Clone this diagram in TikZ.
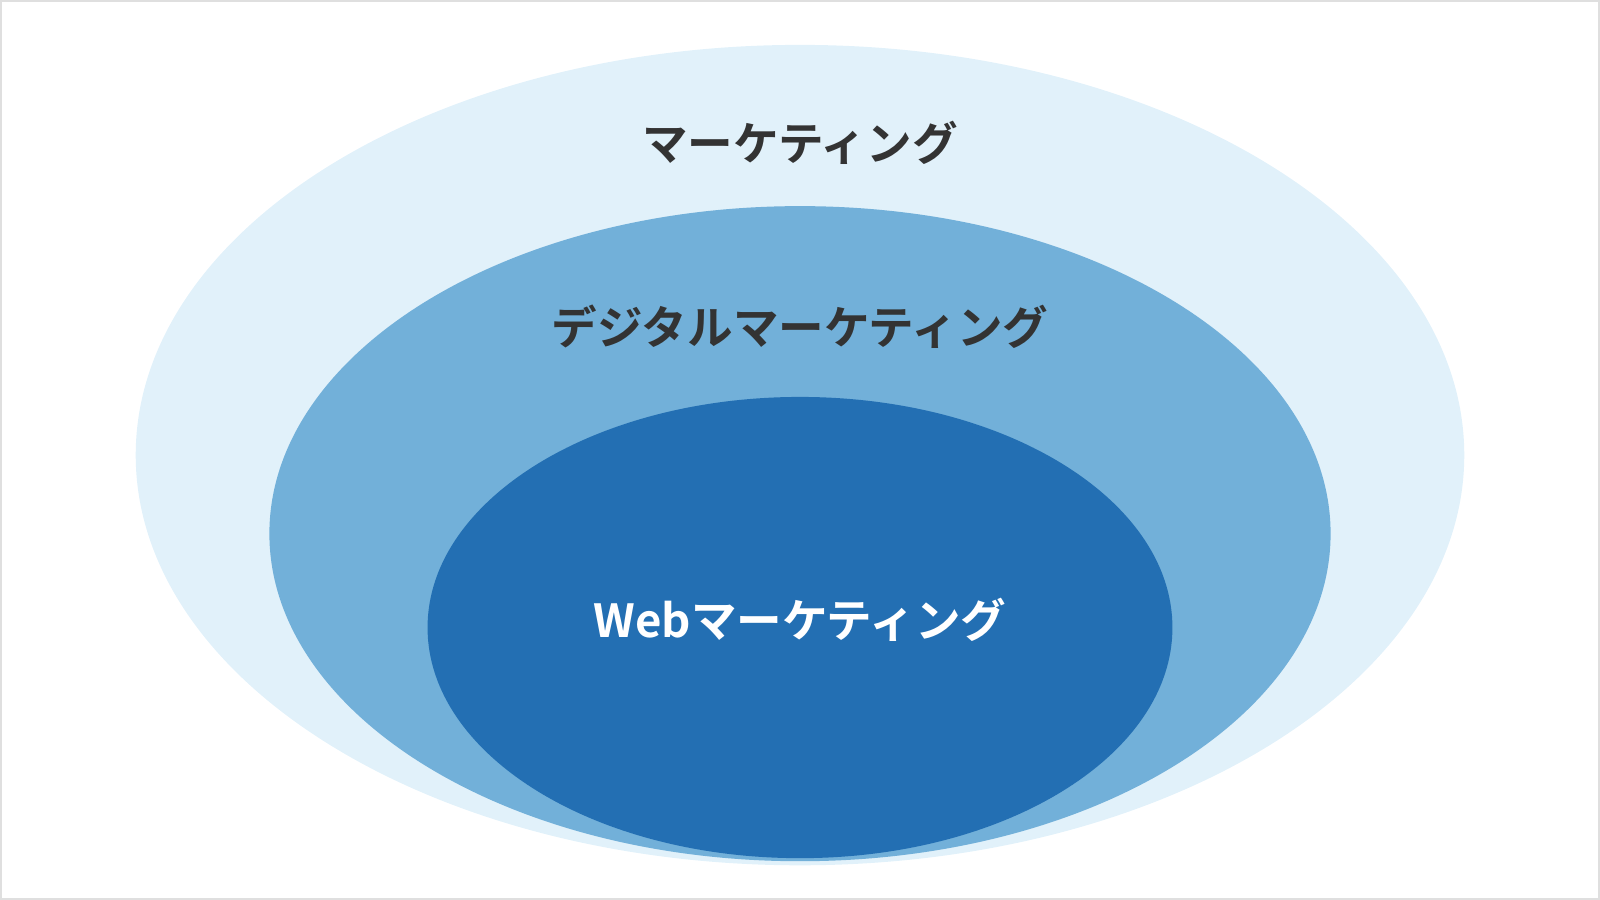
\documentclass[tikz,border=0pt]{standalone}
\usepackage{fontspec}
\newfontfamily\jpfont{Noto Sans CJK JP Bold}
\usetikzlibrary{positioning}
\definecolor{outerblue}{HTML}{E1F1FA}
\definecolor{midblue}{HTML}{72B0D9}
\definecolor{innerblue}{HTML}{236FB3}
\definecolor{darktext}{HTML}{333333}
\begin{document}
\begin{tikzpicture}[x=0.01cm,y=-0.01cm,
    label1/.style={font=\jpfont\fontsize{12.7}{15}\selectfont, text=darktext},
    label2/.style={font=\jpfont\fontsize{12.7}{15}\selectfont, text=white},
    ]
    \useasboundingbox (0,0) rectangle (1568,882);
    \draw[gray!25, line width=1pt] (0.5,0.5) rectangle (1567.5,881.5);
    %Ellipses
    \fill[outerblue] (784,446) ellipse [x radius=651, y radius=402];
    \fill[midblue]   (784,523) ellipse [x radius=520, y radius=321];
    \fill[innerblue] (784,615) ellipse [x radius=365, y radius=226];
    %Labels
    \node[label1] (mkt)     at (784,140) {マーケティング};
    \node[label1] (digital) at (784,320) {デジタルマーケティング};
    \node[label2] (web)     at (784,607) {Webマーケティング};
\end{tikzpicture}
\end{document}
